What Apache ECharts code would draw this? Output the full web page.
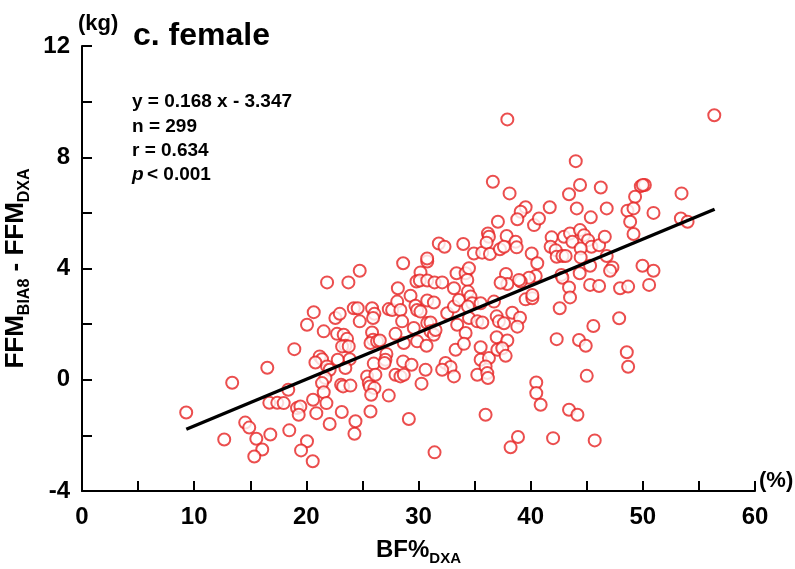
<!DOCTYPE html>
<html lang="en">
  <head>
    <meta charset="UTF-8" />
    <title>c. female</title>
    <script src="https://cdn.jsdelivr.net/npm/echarts@6/dist/echarts.min.js"></script>
    <style>
      html,
      body {
        margin: 0;
        padding: 0;
        background: #fff;
      }
      #chart {
        width: 795px;
        height: 569px;
      }
    </style>
  </head>
  <body>
    <div id="chart"></div>

    <script>
      // BF% (DXA) for each subject
      var bfValues = [
        9.29, 13.39, 16.52, 16.7, 17.41, 14.55, 14.91, 12.68, 15.54, 16.79, 16.07, 15.36,
        28.63, 30.78, 24.76, 21.85, 23.75, 30.18, 29.82, 30.12, 30.78, 31.43, 32.11, 33.39, 34.2, 34.5, 34.35, 33.16, 28.16,
        20.66, 20.06, 22.59, 22.98, 24.23, 24.58, 24.76, 25.86, 26.07, 25.95, 27.35, 27.65, 28.1, 28.39, 29.29, 29.73, 29.88, 30.18, 30.78, 31.37, 28.54, 29.58, 30.78, 31.07, 32.56, 33.16, 33.6, 34.41, 34.64, 34.79, 34.41, 35.54, 34.5, 35.24, 35.69, 33.45, 36.73, 36.97, 37.17,
        21.55, 22.74, 23.33, 23.63, 23.48, 23.19, 23.78, 25.86, 25.95, 25.72, 26.31, 26.55, 27.95, 28.69, 29.88, 31.07, 31.37, 31.52, 30.72, 33.31, 34.2, 34.05, 35.54, 36.97, 18.93, 21.19, 21.4, 20.81, 21.85, 22.8, 23.87, 23.48, 26.01, 27.14, 27.05, 26.97, 28.63, 29.38, 35.54, 36.28, 37.03,
        22.08, 21.7, 21.4, 23.1, 23.28, 23.93, 25.42, 25.57, 25.66, 26.16, 26.07, 27.95, 28.39, 28.69, 30.63, 30.27, 32.41, 32.86, 32.11, 33.16, 35.24, 35.98, 36.13, 36.19, 18.39, 17.98, 19.17, 19.47, 19.32, 20.6, 20.89, 21.55, 21.79, 23.16, 25.78, 25.72, 27.35,
        22.08, 24.38, 24.29, 18.48, 20.06, 19.53, 20.57, 29.14, 31.43, 35.98,
        36.63, 37.08, 31.81, 32.32, 33.99, 34.94, 35.68, 36.19, 36.28, 36.07, 36.37, 37.26, 30.77,
        37.92, 56.37, 44.02, 38.12, 44.4, 46.25, 43.42, 49.82, 50.18, 50.0, 49.31, 53.45, 48.63, 49.17, 48.87, 49.17, 50.95, 53.39, 53.99, 46.78, 45.36, 44.11, 41.7, 39.55, 39.11, 38.81, 40.3, 40.74, 37.86, 37.62, 38.66, 38.75,
        41.87, 41.78, 42.97, 43.51, 43.72, 44.4, 44.76, 45.12, 45.42, 46.1, 46.61, 44.46, 42.23, 42.32, 42.83, 43.12, 44.46, 40.09, 40.59, 46.78, 45.3, 49.97, 50.95, 47.29, 47.08, 44.37, 42.74, 42.83, 40.45, 39.85, 39.11, 38.96, 50.56, 45.3, 46.1, 47.97, 48.69, 43.42, 43.51, 39.55, 40.15, 40.15, 42.59, 38.36, 39.05, 38.81, 37.62, 37.92, 37.47, 37.77, 47.89, 45.59, 42.32, 44.31, 44.91, 48.57, 48.69, 45.0, 40.5, 40.5, 40.89, 43.42, 44.17, 38.87, 38.21, 42.0, 45.71,
        37.8, 37.92, 37.32
      ];

      // FFM(BIA8) - FFM(DXA), kg
      var diffValues = [
        -1.18, -0.11, 0.43, -0.83, -0.83, -1.54, -1.72, -2.15, -2.12, -1.97, -2.51, -2.76,
        4.19, 4.25, 3.92, 3.5, 3.5, 3.86, 3.53, 3.57, 3.57, 3.5, 3.5, 3.83, 3.83, 4.01, 3.59, 3.29, 3.29,
        2.43, 1.98, 2.22, 2.37, 2.57, 2.57, 2.1, 2.57, 2.37, 2.22, 2.54, 2.51, 2.81, 2.51, 3.02, 2.66, 2.51, 2.45, 2.85, 2.78, 2.1, 1.86, 2.04, 2.06, 2.39, 2.63, 2.87, 3.17, 2.99, 2.75, 2.63, 2.75, 2.22, 2.1, 2.06, 1.98, 2.81, 2.28, 2.1,
        1.74, 1.65, 1.62, 1.47, 1.22, 1.2, 1.2, 1.7, 1.44, 1.32, 1.38, 1.41, 1.65, 1.32, 1.38, 1.74, 1.62, 1.79, 1.22, 1.08, 1.68, 1.29, 1.17, 1.53, 1.1, 0.84, 0.74, 0.62, 0.48, 0.72, 0.74, 0.42, 0.58, 0.93, 0.72, 0.6, 0.66, 0.54, 0.72, 0.78, 1.08,
        0.36, 0.06, -0.12, -0.18, -0.24, -0.21, 0.12, -0.12, -0.24, 0.18, -0.3, 0.18, 0.12, 0.18, 0.36, -0.14, 0.6, 0.46, 0.36, 0.12, 0.18, 0.48, 0.24, 0.06, -0.36, -0.84, -1.02, -0.96, -1.26, -0.72, -1.2, -0.45, -0.84, -1.16, -0.54, -1.14, -0.57,
        -1.59, -1.49, -1.94, -1.82, -2.21, -2.54, -2.93, -1.41, -2.61, -1.26,
        7.12, 5.68, 4.9, 4.78, 4.88, 4.54, 4.57, 5.26, 5.14, 4.93, 4.52, 4.69, 4.36,
        9.36, 9.51, 7.86, 6.7, 7.0, 6.91, 6.67, 6.96, 7.0, 7.0, 6.58, 6.7, 6.08, 6.16, 5.68, 5.24, 6.0, 5.8, 5.68, 6.16, 5.84, 6.16, 6.2, 6.2, 6.04, 5.77, 5.56, 5.8, 5.17, 4.78, 4.96, 4.76,
        5.12, 4.78, 5.14, 5.26, 4.96, 5.38, 5.2, 5.02, 4.78, 4.84, 5.14, 4.72, 4.66, 4.42, 4.45, 4.45, 4.4, 4.54, 4.19, 4.45, 4.1, 4.1, 3.92, 4.04, 3.92, 3.83, 3.77, 3.67, 3.73, 3.67, 3.53, 3.59, 3.41, 3.41, 3.37, 3.29, 3.35, 3.32, 2.96, 2.89, 2.93, 3.05, 2.57, 2.41, 2.23, 1.91, 2.03, 1.41, 1.13, 0.86, 2.21, 1.93, 1.46, 1.43, 1.22, 0.99, 0.47, 0.14, -0.1, -0.48, -0.9, -1.08, -1.26, -2.06, -2.43, -2.1, -2.18,
        3.8, 3.44, 3.49
      ];

      // regression line end points
      var fitX = [9.3, 56.4];
      var fitY = [-1.78, 6.13];

      var statLines = ["y = 0.168 x - 3.347", "n = 299", "r = 0.634"];

      var FONT = "'Liberation Sans', Arial, sans-serif";

      var points = bfValues.map(function (x, i) {
        return [x, diffValues[i]];
      });
      var fitLine = fitX.map(function (x, i) {
        return [x, fitY[i]];
      });

      var chart = echarts.init(document.getElementById("chart"));

      var graphics = [
        {
          type: "text",
          x: 78,
          y: 24,
          style: {
            text: "(kg)",
            font: "bold 22px " + FONT,
            fill: "#000",
            textVerticalAlign: "middle",
          },
        },
        {
          type: "text",
          x: 133,
          y: 36,
          style: {
            text: "c. female",
            font: "bold 32px " + FONT,
            fill: "#000",
            textVerticalAlign: "middle",
          },
        },
        {
          type: "text",
          x: 132,
          y: 175,
          style: {
            text: "p",
            font: "italic bold 19px " + FONT,
            fill: "#000",
            textVerticalAlign: "middle",
          },
        },
        {
          type: "text",
          x: 147,
          y: 175,
          style: {
            text: "< 0.001",
            font: "bold 19px " + FONT,
            fill: "#000",
            textVerticalAlign: "middle",
          },
        },
        {
          type: "text",
          x: 759,
          y: 481,
          style: {
            text: "(%)",
            font: "bold 22px " + FONT,
            fill: "#000",
            textVerticalAlign: "middle",
          },
        },
      ];
      statLines.forEach(function (t, i) {
        graphics.push({
          type: "text",
          x: 132,
          y: 102 + i * 24.3,
          style: {
            text: t,
            font: "bold 19px " + FONT,
            fill: "#000",
            textVerticalAlign: "middle",
          },
        });
      });

      var axisCommon = {
        type: "value",
        axisLine: { onZero: false, lineStyle: { color: "#000", width: 2 } },
        axisTick: {
          inside: true,
          length: 10,
          lineStyle: { color: "#000", width: 2 },
        },
        splitLine: { show: false },
      };

      var option = {
        animation: false,
        backgroundColor: "#fff",
        grid: { left: 82, right: 40, top: 46, bottom: 78, outerBoundsMode: "none" },
        xAxis: Object.assign({}, axisCommon, {
          min: 0,
          max: 60,
          interval: 5,
          axisLabel: {
            margin: 14,
            color: "#000",
            fontSize: 24,
            fontWeight: "bold",
            fontFamily: FONT,
            formatter: function (v) {
              return v % 10 === 0 ? v : "";
            },
          },
          name: "{m|BF%}{s|DXA}",
          nameLocation: "middle",
          nameGap: 43,
          nameTextStyle: {
            rich: {
              m: { fontSize: 24, fontWeight: "bold", fontFamily: FONT, color: "#000", lineHeight: 32 },
              s: { fontSize: 15, fontWeight: "bold", fontFamily: FONT, color: "#000", lineHeight: 15, verticalAlign: "bottom" },
            },
          },
        }),
        yAxis: Object.assign({}, axisCommon, {
          min: -4,
          max: 12,
          interval: 2,
          axisLabel: {
            margin: 12,
            color: "#000",
            fontSize: 24,
            fontWeight: "bold",
            fontFamily: FONT,
            formatter: function (v) {
              return v % 4 === 0 ? v : "";
            },
          },
          name: "{m|FFM}{s|BIA8}{m| - FFM}{s|DXA}",
          nameLocation: "middle",
          nameRotate: 90,
          nameGap: 38,
          nameTextStyle: {
            rich: {
              m: { fontSize: 26, fontWeight: "bold", fontFamily: FONT, color: "#000", lineHeight: 34 },
              s: { fontSize: 16, fontWeight: "bold", fontFamily: FONT, color: "#000", lineHeight: 16, verticalAlign: "bottom" },
            },
          },
        }),
        graphic: graphics,
        series: [
          {
            type: "scatter",
            data: points,
            symbol: "emptyCircle",
            symbolSize: 12,
            itemStyle: { color: "#e62222", borderWidth: 0.9 },
            z: 2,
          },
          {
            type: "line",
            data: fitLine,
            symbol: "none",
            lineStyle: { color: "#000", width: 3.5 },
            z: 3,
          },
        ],
      };

      chart.setOption(option);
    </script>
  </body>
</html>
